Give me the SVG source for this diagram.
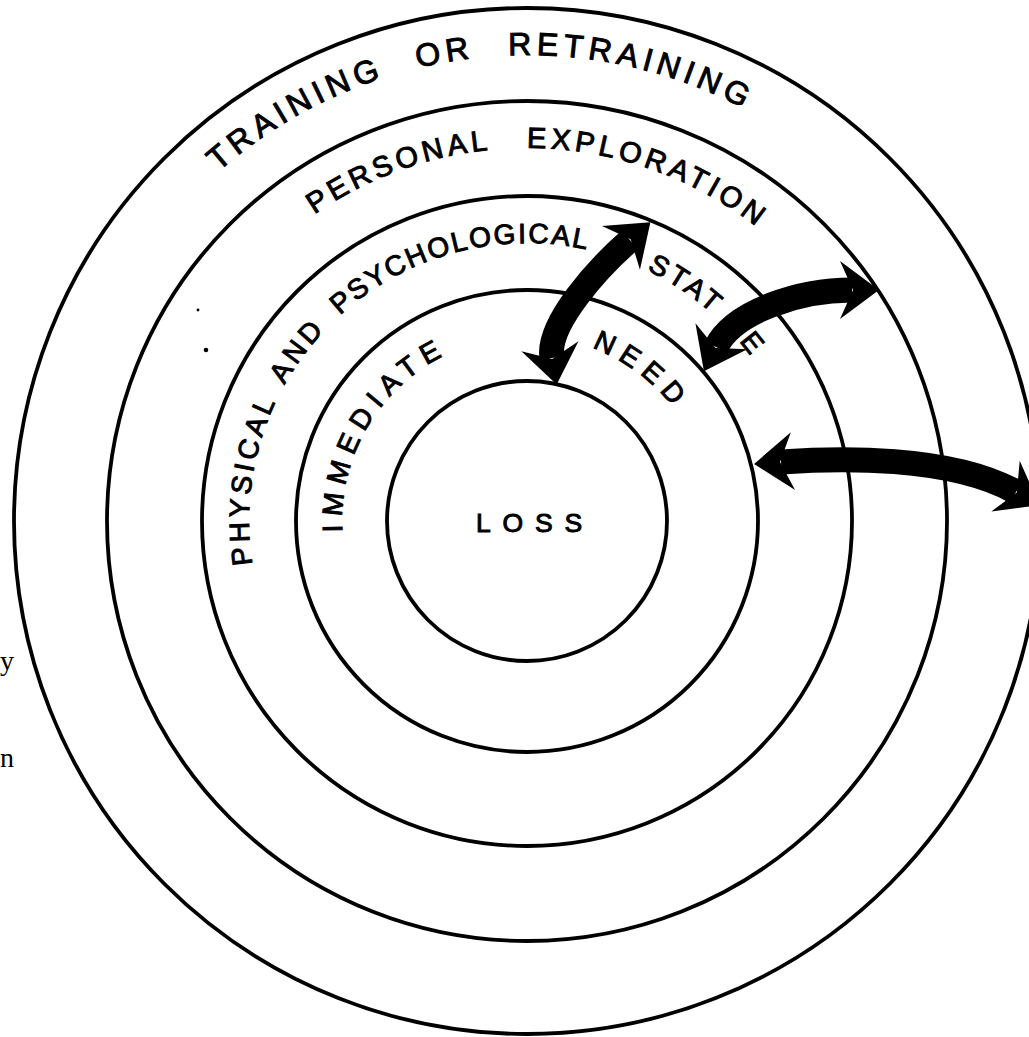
<svg xmlns="http://www.w3.org/2000/svg" width="1029" height="1037" viewBox="0 0 1029 1037">
<style>
.ring{fill:none;stroke:#000;stroke-width:3.8}
.lbl{font-family:"Liberation Sans","DejaVu Sans",sans-serif;fill:#000;stroke:#000;stroke-width:1}
.arr{fill:none;stroke:#000;stroke-width:25;stroke-linecap:butt;marker-start:url(#head);marker-end:url(#head)}
.page{font-family:"Liberation Serif","DejaVu Serif",serif;font-size:28px;fill:#000}
</style>
<defs>
<marker id="head" viewBox="-12 -32 46 64" markerWidth="46" markerHeight="64" refX="3" refY="0" orient="auto-start-reverse" markerUnits="userSpaceOnUse">
<path d="M-9,-29 L30,0 L-9,29 L4,0 Z" fill="#000"/>
</marker>
<path id="p466" d="M123.4,754 A466,466 0 1 1 760,924.6"/>
<path id="p373" d="M204,707.5 A373,373 0 1 1 713.5,844"/>
<path id="p278" d="M286.2,660 A278,278 0 1 1 666,761.8"/>
<path id="p185" d="M366.8,613.5 A185,185 0 1 1 619.5,681.2"/>
</defs>
<rect width="1029" height="1037" fill="#fff"/>

<g id="node-training">
<circle class="ring" cx="527" cy="521" r="513"/>
<text class="lbl" font-size="32" letter-spacing="5.1" word-spacing="19.2"><textPath href="#p466" startOffset="638.5">TRAINING OR RETRAINING</textPath></text>
</g>
<g id="node-personal">
<circle class="ring" cx="527" cy="521" r="420"/>
<text class="lbl" font-size="29" letter-spacing="4.2" word-spacing="23.3"><textPath href="#p373" startOffset="554.7">PERSONAL EXPLORATION</textPath></text>
</g>
<g id="node-state">
<circle class="ring" cx="527" cy="521" r="325"/>
<text class="lbl" font-size="28" word-spacing="6.8"><textPath href="#p278" startOffset="101.9"><tspan letter-spacing="3.9">PHYSICAL AND </tspan><tspan letter-spacing="2.1">PSYCHOLOGICAL</tspan></textPath></text>
<text class="lbl" font-size="28" letter-spacing="3.6"><textPath href="#p278" startOffset="705.5">STAT</textPath></text>
<text class="lbl" font-size="28" text-anchor="middle"><textPath href="#p278" startOffset="832.1">E</textPath></text>
</g>
<g id="node-need">
<circle class="ring" cx="527" cy="521" r="231"/>
<text class="lbl" font-size="28" letter-spacing="7.6" word-spacing="130.6"><textPath href="#p185" startOffset="85.6">IMMEDIATE NEED</textPath></text>
</g>
<g id="node-loss">
<circle class="ring" cx="527" cy="521" r="140" stroke-width="4.2"/>
<text class="lbl" x="476" y="532" font-size="26.5" letter-spacing="11.8">LOSS</text>
</g>

<g id="connectors">
<path class="arr" d="M630,240 C600,266 546,324 552,358"/>
<path class="arr" d="M716,347 C734,311 800,290 852,290"/>
<path class="arr" d="M781,462 C836,458 950,455 1016,492"/>
</g>

<g id="specks">
<circle cx="206" cy="350" r="2.3" fill="#000"/>
<circle cx="198" cy="310" r="1.4" fill="#000"/>
</g>

<g id="page-edge">
<text class="page" x="0" y="670">y</text>
<text class="page" x="0" y="767">n</text>
</g>
</svg>
